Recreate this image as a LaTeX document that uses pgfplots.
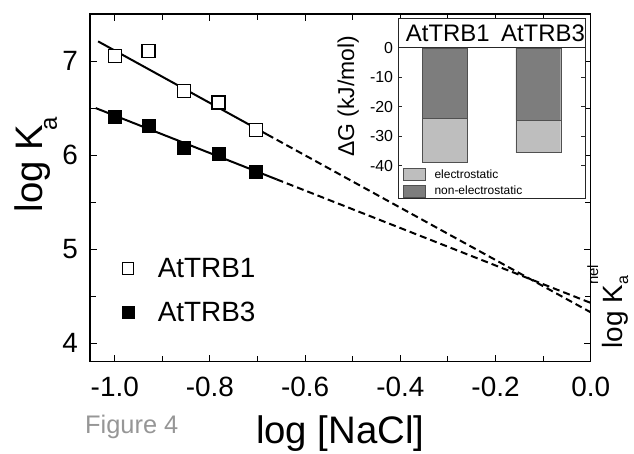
\documentclass[border=0pt]{standalone}
\usepackage{fontspec}
\setmainfont{Liberation Sans}
\usepackage{pgfplots}
\pgfplotsset{compat=1.18}
\definecolor{elec}{RGB}{190,190,190}
\definecolor{nonelec}{RGB}{125,125,125}
\definecolor{baredge}{RGB}{80,80,80}
\definecolor{figgray}{RGB}{150,150,150}

\begin{document}
\begin{tikzpicture}
\path[use as bounding box] (0,0) rectangle (634bp,454bp);

% main plot: log Ka vs log [NaCl]
\begin{axis}[
    at={(90bp,92.3bp)}, anchor=south west,
    width=500.7bp, height=347.7bp, scale only axis,
    xmin=-1.052, xmax=0, ymin=3.805, ymax=7.5,
    xtick={-1,-0.8,-0.6,-0.4,-0.2,0}, minor x tick num=1,
    ytick={4,5,6,7}, minor y tick num=1,
    tick align=inside,
    major tick length=7bp, minor tick length=6bp,
    axis line style={line width=1.4bp},
    every tick/.style={black, line width=1bp},
    /pgf/number format/assume math mode=true,
    x tick label style={/pgf/number format/.cd, fixed, fixed zerofill, precision=1, /tikz/.cd,
        font=\fontsize{28}{28}\selectfont, inner sep=0, yshift=-15bp},
    y tick label style={font=\fontsize{28}{28}\selectfont, inner sep=0, xshift=-12bp},
    xlabel={log [NaCl]},
    every axis x label/.style={at={(rel axis cs:0.5,0)}, anchor=north, inner sep=0,
        yshift=-54bp, font=\fontsize{38.5}{38.5}\selectfont},
    ylabel={log K\kern-6bp\raisebox{-14bp}{\fontsize{24}{24}\selectfont a}},
    every axis y label/.style={at={(rel axis cs:-0.094,0.566)}, rotate=90, anchor=base,
        inner sep=0, font=\fontsize{38.5}{38.5}\selectfont},
    legend image code/.code={\draw[#1, mark size=5.8bp] plot coordinates {(0bp,0bp)};},
    legend style={at={(rel axis cs:0.064,0.301)}, anchor=north west, draw=none, fill=none,
        font=\fontsize{28}{28}\selectfont, row sep=21bp, inner sep=0,
        nodes={inner sep=1bp}, /tikz/every odd column/.append style={column sep=23bp}},
    legend cell align=left,
]
% linear fits, solid over the data range, dashed extrapolation to log [NaCl]=0
\addplot[forget plot, line width=2bp] coordinates {(-1.035,7.209) (-0.68,6.220)};
\addplot[forget plot, line width=2bp, dash pattern=on 7bp off 4bp] coordinates {(-0.68,6.220) (0,4.33)};
\addplot[forget plot, line width=2bp] coordinates {(-1.04,6.500) (-0.66,5.743)};
\addplot[forget plot, line width=2bp, dash pattern=on 7bp off 4bp] coordinates {(-0.66,5.743) (0,4.43)};

\addplot[only marks, mark=square*, mark size=6.5bp, mark options={line width=1.3bp, draw=black, fill=white}]
    coordinates {(-1.0,7.053) (-0.929,7.106) (-0.855,6.684) (-0.782,6.561) (-0.703,6.267)};
\addlegendentry{AtTRB1}
\addplot[only marks, mark=square*, mark size=6.5bp, black]
    coordinates {(-1.0,6.408) (-0.929,6.309) (-0.855,6.079) (-0.782,6.019) (-0.703,5.824)};
\addlegendentry{AtTRB3}
\end{axis}

% right-hand label
\node[rotate=90, anchor=base, inner sep=0, font=\fontsize{28}{28}\selectfont]
    at (622bp,142bp) {log K\makebox[0pt][l]{\raisebox{24bp}{\fontsize{15}{15}\selectfont nel}}\raisebox{-6bp}{\fontsize{16}{16}\selectfont a}};

\node[anchor=base west, inner sep=0, text=figgray, font=\fontsize{25.5}{25.5}\selectfont]
    at (85bp,21bp) {Figure 4};

% inset: free energy split
\begin{axis}[
    at={(398.3bp,255.7bp)}, anchor=south west,
    width=186.7bp, height=180bp, scale only axis,
    axis background/.style={fill=white},
    xmin=0.5, xmax=2.5, ymin=-51, ymax=10,
    xtick=\empty, ytick={-40,-30,-20,-10,0},
    tick align=inside, major tick length=4bp,
    axis line style={line width=0.9bp, black!85},
    every tick/.style={black!85, line width=0.8bp},
    ybar stacked, bar width=0.48,
    /pgf/number format/assume math mode=true,
    y tick label style={font=\fontsize{16}{16}\selectfont, inner sep=0, xshift=-5bp},
    ylabel={ΔG (kJ/mol)},
    every axis y label/.style={at={(rel axis cs:-0.21,0.566)}, rotate=90, anchor=south,
        inner sep=0, font=\fontsize{23}{23}\selectfont},
    legend image code/.code={\draw[#1] (0bp,-6bp) rectangle (22bp,6bp);},
    legend style={at={(rel axis cs:0.025,0.006)}, anchor=south west, draw=none, fill=none,
        font=\fontsize{12}{12}\selectfont, row sep=4bp, inner sep=0,
        nodes={inner sep=1bp}, /tikz/every odd column/.append style={column sep=8bp}},
    legend cell align=left,
]
\addplot[fill=nonelec, draw=baredge, forget plot] coordinates {(1,-23.9) (2,-24.5)};
\addplot[fill=elec, draw=baredge, forget plot] coordinates {(1,-14.9) (2,-11.0)};
\draw[black!85, line width=0.9bp] (axis cs:0.5,0) -- (axis cs:2.5,0);
\node[font=\fontsize{24}{24}\selectfont, inner sep=0] at (axis cs:1.03,5) {AtTRB1};
\node[font=\fontsize{24}{24}\selectfont, inner sep=0] at (axis cs:2.05,5) {AtTRB3};
\addlegendimage{fill=elec, draw=baredge}
\addlegendentry{electrostatic}
\addlegendimage{fill=nonelec, draw=baredge}
\addlegendentry{non-electrostatic}
\end{axis}
\end{tikzpicture}
\end{document}
